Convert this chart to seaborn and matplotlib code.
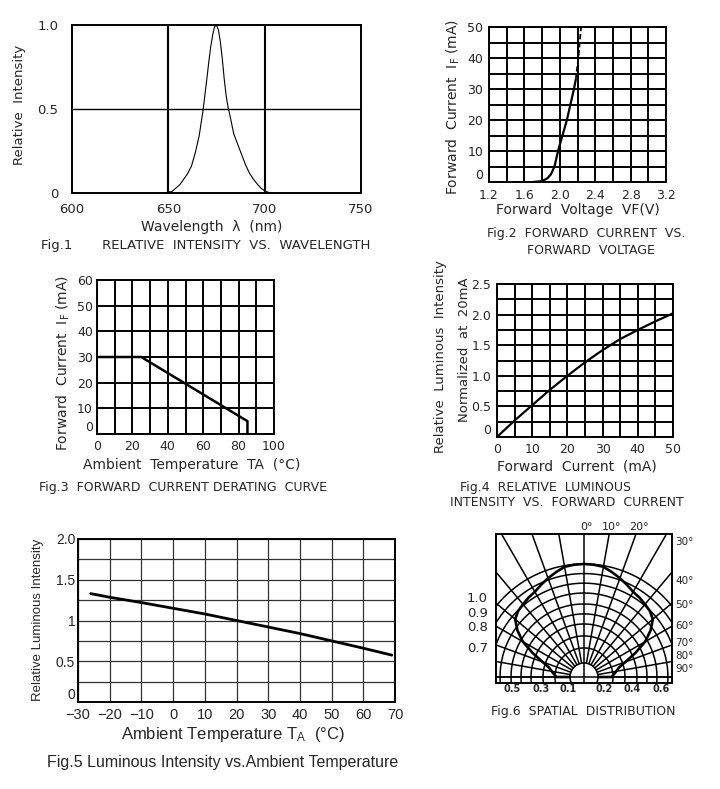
import numpy as np
import matplotlib
matplotlib.use("Agg")
import matplotlib.pyplot as plt
import seaborn as sns

# ==================================
# DATA
# ==================================
# Fig.1 relative intensity vs wavelength
wavelength = [648, 652, 656, 660, 662, 664, 666, 668, 670, 671, 672, 673, 674, 675,
              676, 677, 678, 679, 680, 681, 682, 684, 686, 688, 690, 692, 694, 696,
              698, 700, 703]
rel_intensity = [0.0, 0.01, 0.05, 0.115, 0.16, 0.24, 0.34, 0.49, 0.68, 0.78, 0.87, 0.94,
                 0.99, 1.0, 0.97, 0.90, 0.80, 0.68, 0.58, 0.51, 0.46, 0.35, 0.29, 0.23,
                 0.17, 0.12, 0.085, 0.055, 0.03, 0.012, 0.0]
wl_ticks = [600, 650, 700, 750]

# Fig.2 forward current vs forward voltage
vf_solid = [1.70, 1.80, 1.86, 1.90, 1.94, 1.98, 2.03, 2.08, 2.12, 2.16, 2.18]
if_solid = [0, 0.3, 1.2, 2.5, 5, 10, 15, 20, 25, 30, 33]
vf_dash = [2.18, 2.21, 2.24]
if_dash = [33, 40, 50]
vf_ticks = [1.2, 1.6, 2.0, 2.4, 2.8, 3.2]

# Fig.3 derating curve
ta_derate = [0, 25, 85, 85]
if_derate = [30, 30, 5, 0]

# Fig.4 relative luminous intensity vs forward current
if_lum = [0, 5, 10, 15, 20, 25, 30, 35, 40, 45, 50]
lum_rel = [0, 0.27, 0.52, 0.77, 1.0, 1.22, 1.42, 1.60, 1.75, 1.89, 2.02]

# Fig.5 luminous intensity vs ambient temperature
ta_lum = [-26, -20, -10, 0, 10, 20, 30, 40, 50, 60, 69]
lum_ta = [1.33, 1.285, 1.22, 1.15, 1.08, 1.0, 0.92, 0.84, 0.75, 0.66, 0.575]

# Fig.6 spatial distribution (one half, mirrored)
angle_deg = [0, 5, 10, 15, 20, 25, 30, 35, 40, 45, 50, 55, 60, 65, 70, 75, 80, 85, 90, 90]
pattern = [1.0, 0.997, 0.99, 0.96, 0.93, 0.90, 0.87, 0.857, 0.84, 0.825, 0.795, 0.72,
           0.625, 0.50, 0.39, 0.32, 0.29, 0.265, 0.245, 0.127]
ring_radii = [0.124, 0.257, 0.363, 0.469, 0.558, 0.646, 0.743, 0.83, 0.915, 1.0]
left_scale = ["1.0", "0.9", "0.8", "0.7"]
left_scale_y = [0.71, 0.575, 0.45, 0.265]
bottom_scale = ["0.5", "0.3", "0.1", "0.2", "0.4", "0.6"]
bottom_scale_x = [-0.64, -0.38, -0.14, 0.177, 0.425, 0.68]
top_angles = [0, 10, 20]
right_angles = [30, 40, 50, 60, 70, 80, 90]
right_label_y = [1.195, 0.85, 0.637, 0.451, 0.30, 0.185, 0.07]

# ==================================
# STYLE
# ==================================
sns.set_style("white")
plt.rcParams["font.family"] = ["DejaVu Sans"]
plt.rcParams["mathtext.fontset"] = "dejavusans"
plt.rcParams["axes.edgecolor"] = "black"
plt.rcParams["axes.linewidth"] = 1.4
NARROW = ["Liberation Sans", "DejaVu Sans"]

W, H = 720, 789
fig = plt.figure(figsize=(W / 100, H / 100), dpi=100)


def px_axes(left, top, right, bottom):
    return fig.add_axes([left / W, 1 - bottom / H, (right - left) / W, (bottom - top) / H])


def px_text(x, y, s, **kw):
    kw.setdefault("ha", "center")
    kw.setdefault("va", "center")
    fig.text(x / W, 1 - y / H, s, **kw)


def lift_zero(ax):
    # the "0" label sits a little above the bottom line in the datasheet
    ax.get_yticklabels()[0].set_va("bottom")


# ==================================
# FIG.1
# ==================================
ax1 = px_axes(72, 25, 361, 193)
sns.lineplot(x=wavelength, y=rel_intensity, ax=ax1, color="black", lw=0.8)
for x in [650, 700]:
    ax1.axvline(x, color="black", lw=1.5)
ax1.axhline(0.5, color="black", lw=1.0)
ax1.set_xlim(600, 750)
ax1.set_ylim(0, 1)
ax1.set_xticks(wl_ticks)
ax1.set_yticks([0, 0.5, 1.0])
ax1.set_yticklabels(["0", "0.5", "1.0"])
ax1.tick_params(axis="x", length=0, labelsize=9.5, pad=7)
ax1.tick_params(axis="y", length=0, labelsize=9.5, pad=10)
px_text(212, 227, "Wavelength  λ  (nm)", fontsize=10)
px_text(20, 105, "Relative  Intensity", fontsize=9.5, rotation=90)
px_text(41, 245, "Fig.1       RELATIVE  INTENSITY  VS.  WAVELENGTH", fontsize=9.5, ha="left")

# ==================================
# FIG.2
# ==================================
ax2 = px_axes(489, 27, 666, 182)
sns.lineplot(x=vf_solid, y=if_solid, ax=ax2, color="black", lw=1.6, sort=False, estimator=None)
sns.lineplot(x=vf_dash, y=if_dash, ax=ax2, color="black", lw=1.3, ls=(0, (3, 1.5)),
             sort=False, estimator=None)
ax2.set_xlim(1.2, 3.2)
ax2.set_ylim(0, 50)
ax2.set_xticks(vf_ticks)
ax2.set_xticklabels([f"{v:.1f}" for v in vf_ticks])
ax2.set_xticks(np.arange(1.2, 3.21, 0.2), minor=True)
ax2.set_yticks(range(0, 51, 10))
ax2.set_yticks(range(0, 51, 5), minor=True)
ax2.grid(True, which="both", color="black", lw=1.4)
ax2.tick_params(which="both", length=0, labelsize=9)
ax2.tick_params(axis="x", pad=5)
ax2.tick_params(axis="y", pad=4)
lift_zero(ax2)
px_text(578, 210, "Forward  Voltage  VF(V)", fontsize=10)
px_text(453, 107, r"Forward  Current  I$_{\rm F}$ (mA)", fontsize=10, rotation=90)
px_text(586, 233, "Fig.2  FORWARD  CURRENT  VS.", fontsize=9)
px_text(591, 250, "FORWARD  VOLTAGE", fontsize=9)

# ==================================
# FIG.3
# ==================================
ax3 = px_axes(97, 280, 274, 434)
sns.lineplot(x=ta_derate, y=if_derate, ax=ax3, color="black", lw=1.8, sort=False, estimator=None)
ax3.set_xlim(0, 100)
ax3.set_ylim(0, 60)
ax3.set_xticks(range(0, 101, 20))
ax3.set_xticks(range(0, 101, 10), minor=True)
ax3.set_yticks(range(0, 61, 10))
ax3.grid(True, which="both", color="black", lw=1.4)
ax3.tick_params(which="both", length=0, labelsize=9)
ax3.tick_params(axis="x", pad=4)
ax3.tick_params(axis="y", pad=3)
lift_zero(ax3)
px_text(192, 465, "Ambient  Temperature  TA  (°C)", fontsize=10)
px_text(63, 363, r"Forward  Current  I$_{\rm F}$ (mA)", fontsize=10, rotation=90)
px_text(183, 488, "Fig.3  FORWARD  CURRENT DERATING  CURVE", fontsize=9)

# ==================================
# FIG.4
# ==================================
ax4 = px_axes(497, 284, 673, 437)
sns.lineplot(x=if_lum, y=lum_rel, ax=ax4, color="black", lw=1.6)
ax4.set_xlim(0, 50)
ax4.set_ylim(0, 2.5)
ax4.set_xticks(range(0, 51, 10))
ax4.set_xticks(range(0, 51, 5), minor=True)
ax4.set_yticks([0, 0.5, 1.0, 1.5, 2.0, 2.5])
ax4.set_yticklabels(["0", "0.5", "1.0", "1.5", "2.0", "2.5"])
ax4.set_yticks(np.arange(0, 2.51, 0.25), minor=True)
ax4.grid(True, which="both", color="black", lw=1.4)
ax4.tick_params(which="both", length=0, labelsize=9)
ax4.tick_params(axis="x", pad=4)
ax4.tick_params(axis="y", pad=4)
lift_zero(ax4)
px_text(577, 467, "Forward  Current  (mA)", fontsize=10)
px_text(440, 357, "Relative  Luminous  Intensity", fontsize=9.5, rotation=90)
px_text(465, 350, "Normalized  at  20mA", fontsize=9.5, rotation=90)
px_text(460, 488, "Fig.4  RELATIVE  LUMINOUS", fontsize=9, ha="left")
px_text(450, 503, "INTENSITY  VS.  FORWARD  CURRENT", fontsize=9, ha="left")

# ==================================
# FIG.5
# ==================================
ax5 = px_axes(78, 539, 395, 702)
sns.lineplot(x=ta_lum, y=lum_ta, ax=ax5, color="black", lw=2.0)
ax5.set_xlim(-30, 70)
ax5.set_ylim(0, 2.0)
ax5.set_xticks(range(-30, 71, 10))
ax5.set_xticklabels([str(t).replace("-", "\u2212") for t in range(-30, 71, 10)],
                    family=NARROW, fontsize=10.5)
ax5.set_yticks([0, 0.5, 1.0, 1.5, 2.0])
ax5.set_yticklabels(["0", "0.5", "1", "1.5", "2.0"], family=NARROW, fontsize=10)
ax5.set_yticks(np.arange(0, 2.01, 0.25), minor=True)
ax5.grid(True, which="both", color="#333333", lw=0.9)
ax5.tick_params(which="both", length=0)
ax5.tick_params(axis="x", pad=4)
ax5.tick_params(axis="y", pad=2)
lift_zero(ax5)
px_text(233, 735, r"Ambient Temperature T$\mathregular{_A}$  (°C)", fontsize=12, family=NARROW)
px_text(38, 620, "Relative Luminous Intensity", fontsize=9.5, family=NARROW, rotation=90)
px_text(223, 763, "Fig.5 Luminous Intensity vs.Ambient Temperature", fontsize=11.5, family=NARROW)

# ==================================
# FIG.6
# ==================================
ax6 = px_axes(496, 534, 672, 683)
x_lim, y_top, y_bot = 0.779, 1.265, -0.053
theta = np.linspace(0, 2 * np.pi, 400)
for r in ring_radii:
    ax6.plot(r * np.cos(theta), r * np.sin(theta), color="black", lw=1.1)
for a in range(-90, 91, 10):
    t = np.radians(a)
    r0 = -0.2 if a == 0 else ring_radii[0]
    ax6.plot([r0 * np.sin(t), 2 * np.sin(t)], [r0 * np.cos(t), 2 * np.cos(t)],
             color="black", lw=1.1)
ax6.axhline(0, color="black", lw=1.1)

half = np.radians(angle_deg)
pat = np.array(pattern)
px = np.concatenate([-(pat * np.sin(half))[::-1], pat * np.sin(half)])
py = np.concatenate([(pat * np.cos(half))[::-1], pat * np.cos(half)])
sns.lineplot(x=px, y=py, ax=ax6, color="black", lw=1.9, sort=False, estimator=None)

ax6.set_xlim(-x_lim, x_lim)
ax6.set_ylim(y_bot, y_top)
ax6.set_xticks(bottom_scale_x)
ax6.set_xticklabels(bottom_scale, fontsize=7, fontweight="bold")
ax6.set_yticks(left_scale_y)
ax6.set_yticklabels(left_scale, fontsize=9.5)
ax6.tick_params(length=0)
ax6.tick_params(axis="x", pad=1)
ax6.tick_params(axis="y", pad=6)
for a in top_angles:
    ax6.text(y_top * np.tan(np.radians(a)) + 0.025, y_top + 0.02, f"{a}°",
             ha="center", va="bottom", fontsize=8, clip_on=False)
for a, yy in zip(right_angles, right_label_y):
    ax6.text(x_lim + 0.03, yy, f"{a}°", ha="left", va="center", fontsize=7.5, clip_on=False)
px_text(583, 711, "Fig.6  SPATIAL  DISTRIBUTION", fontsize=9)

fig.savefig("out.png", dpi=100)
